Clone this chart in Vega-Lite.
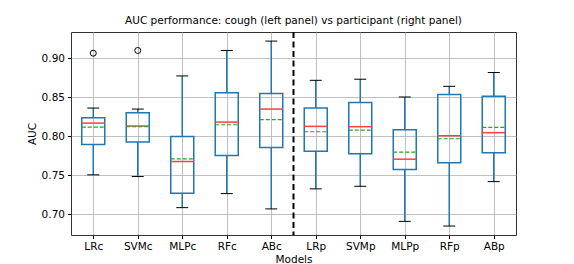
{
  "$schema": "https://vega.github.io/schema/vega-lite/v6.json",
  "width": 445,
  "height": 203,
  "autosize": "none",
  "padding": {"left": 71, "top": 32, "right": 58, "bottom": 29},
  "background": "white",
  "title": {"text": "AUC performance: cough (left panel) vs participant (right panel)", "font": "DejaVu Sans", "fontSize": 10.5, "fontWeight": "normal", "color": "#000000", "offset": 5},
  "config": {
    "view": {"stroke": "#333333", "strokeWidth": 1},
    "axis": {
      "labelFont": "DejaVu Sans", "labelFontSize": 10.5, "labelColor": "#000000",
      "titleFont": "DejaVu Sans", "titleFontSize": 10.5, "titleFontWeight": "normal", "titleColor": "#000000",
      "gridColor": "#b0b0b0", "gridWidth": 1, "gridOpacity": 0.8,
      "tickColor": "#000000", "tickSize": 3.5, "tickWidth": 1, "labelPadding": 3,
      "domain": false
    }
  },
  "datasets": {
    "boxes": [
      {"pos": 1, "model": "LRc", "lo": 0.7507, "q1": 0.7897, "med": 0.8171, "mean": 0.8120, "q3": 0.8240, "hi": 0.8364},
      {"pos": 2, "model": "SVMc", "lo": 0.7485, "q1": 0.7927, "med": 0.8133, "mean": 0.8124, "q3": 0.8305, "hi": 0.8351},
      {"pos": 3, "model": "MLPc", "lo": 0.7086, "q1": 0.7270, "med": 0.7678, "mean": 0.7713, "q3": 0.8000, "hi": 0.8776},
      {"pos": 4, "model": "RFc", "lo": 0.7266, "q1": 0.7755, "med": 0.8184, "mean": 0.8150, "q3": 0.8562, "hi": 0.9103},
      {"pos": 5, "model": "ABc", "lo": 0.7070, "q1": 0.7858, "med": 0.8351, "mean": 0.8215, "q3": 0.8550, "hi": 0.9223},
      {"pos": 6, "model": "LRp", "lo": 0.7327, "q1": 0.7811, "med": 0.8129, "mean": 0.8060, "q3": 0.8364, "hi": 0.8720},
      {"pos": 7, "model": "SVMp", "lo": 0.7360, "q1": 0.7777, "med": 0.8125, "mean": 0.8081, "q3": 0.8434, "hi": 0.8734},
      {"pos": 8, "model": "MLPp", "lo": 0.6910, "q1": 0.7575, "med": 0.7708, "mean": 0.7798, "q3": 0.8086, "hi": 0.8506},
      {"pos": 9, "model": "RFp", "lo": 0.6850, "q1": 0.7662, "med": 0.8009, "mean": 0.7970, "q3": 0.8537, "hi": 0.8643},
      {"pos": 10, "model": "ABp", "lo": 0.7420, "q1": 0.7790, "med": 0.8048, "mean": 0.8116, "q3": 0.8515, "hi": 0.8820}
    ],
    "outliers": [
      {"pos": 1, "auc": 0.9068},
      {"pos": 2, "auc": 0.9103}
    ],
    "sep": [{"pos": 5.5}]
  },
  "encoding": {
    "x": {
      "field": "pos", "type": "quantitative",
      "scale": {"domain": [0.5, 10.5], "nice": false, "zero": false},
      "axis": {
        "title": "Models", "titlePadding": 2,
        "values": [1, 2, 3, 4, 5, 6, 7, 8, 9, 10],
        "labelExpr": "['', 'LRc', 'SVMc', 'MLPc', 'RFc', 'ABc', 'LRp', 'SVMp', 'MLPp', 'RFp', 'ABp'][datum.value]",
        "labelFlush": false, "labelOverlap": false
      }
    }
  },
  "layer": [
    {
      "data": {"name": "boxes"},
      "mark": {"type": "rule", "color": "#1f77b4", "strokeWidth": 1.5},
      "encoding": {
        "y": {"field": "lo", "type": "quantitative", "title": "AUC",
          "scale": {"domain": [0.6735, 0.934], "nice": false, "zero": false},
          "axis": {"values": [0.7, 0.75, 0.8, 0.85, 0.9], "format": ".2f", "titlePadding": 4}},
        "y2": {"field": "q1"}
      }
    },
    {
      "data": {"name": "boxes"},
      "mark": {"type": "rule", "color": "#1f77b4", "strokeWidth": 1.5},
      "encoding": {
        "y": {"field": "q3", "type": "quantitative", "title": "AUC"},
        "y2": {"field": "hi"}
      }
    },
    {
      "data": {"name": "boxes"},
      "mark": {"type": "rect", "fill": "white", "fillOpacity": 0, "stroke": "#1f77b4", "strokeWidth": 1.5, "xOffset": -11.5, "x2Offset": 11.5},
      "encoding": {
        "x2": {"field": "pos"},
        "y": {"field": "q1", "type": "quantitative", "title": "AUC"},
        "y2": {"field": "q3"}
      }
    },
    {
      "data": {"name": "boxes"},
      "mark": {"type": "rule", "color": "#000000", "strokeWidth": 1, "xOffset": -6, "x2Offset": 6},
      "encoding": {
        "x2": {"field": "pos"},
        "y": {"field": "lo", "type": "quantitative", "title": "AUC"}
      }
    },
    {
      "data": {"name": "boxes"},
      "mark": {"type": "rule", "color": "#000000", "strokeWidth": 1, "xOffset": -6, "x2Offset": 6},
      "encoding": {
        "x2": {"field": "pos"},
        "y": {"field": "hi", "type": "quantitative", "title": "AUC"}
      }
    },
    {
      "data": {"name": "boxes"},
      "mark": {"type": "rule", "color": "#ff4040", "strokeWidth": 1.5, "xOffset": -11.5, "x2Offset": 11.5},
      "encoding": {
        "x2": {"field": "pos"},
        "y": {"field": "med", "type": "quantitative", "title": "AUC"}
      }
    },
    {
      "data": {"name": "boxes"},
      "mark": {"type": "rule", "color": "#2ca02c", "strokeWidth": 1.2, "strokeDash": [4, 2], "xOffset": -11.5, "x2Offset": 11.5},
      "encoding": {
        "x2": {"field": "pos"},
        "y": {"field": "mean", "type": "quantitative", "title": "AUC"}
      }
    },
    {
      "data": {"name": "outliers"},
      "mark": {"type": "point", "shape": "circle", "filled": false, "color": "#000000", "strokeWidth": 1, "size": 36, "opacity": 1},
      "encoding": {
        "y": {"field": "auc", "type": "quantitative", "title": "AUC"}
      }
    },
    {
      "data": {"name": "sep"},
      "mark": {"type": "rule", "color": "#000000", "strokeWidth": 2, "strokeDash": [6, 3.5]},
      "encoding": {}
    }
  ]
}
